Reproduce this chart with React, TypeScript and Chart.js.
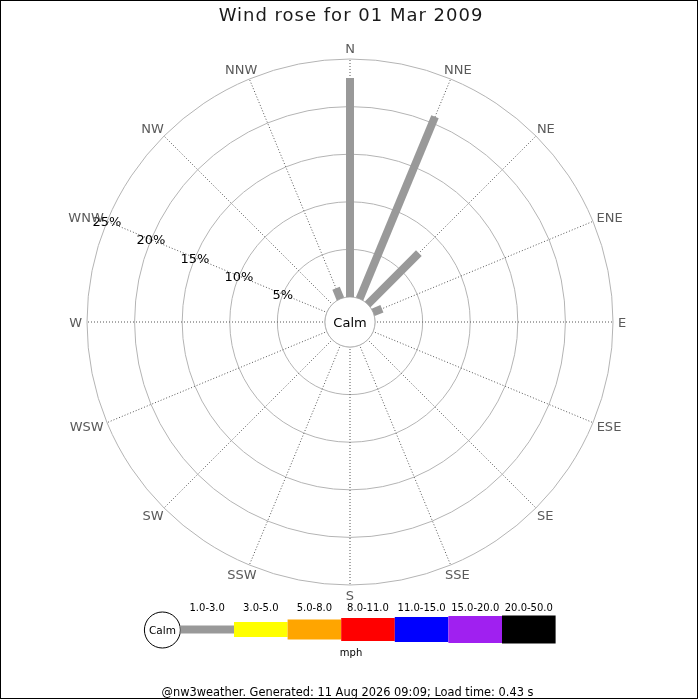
import { useEffect, useRef } from 'react';
import { Chart, registerables } from 'chart.js';

Chart.register(...registerables);

// ---------- data ----------
const TITLE = 'Wind rose for 01 Mar 2009';
const FOOTER = '@nw3weather. Generated: 11 Aug 2026 09:09; Load time: 0.43 s';
const CALM_LABEL = 'Calm';
const SPEED_UNIT = 'mph';
const DIRECTIONS = ['N', 'NNE', 'NE', 'ENE', 'E', 'ESE', 'SE', 'SSE', 'S', 'SSW', 'SW', 'WSW', 'W', 'WNW', 'NW', 'NNW'];
const SPEED_BINS = ['1.0-3.0', '3.0-5.0', '5.0-8.0', '8.0-11.0', '11.0-15.0', '15.0-20.0', '20.0-50.0'];
const RING_TICKS = [5, 10, 15, 20, 25];
const TICK_LABEL_DIRECTION = 'WNW';

// frequency (%) per direction for each speed bin
const FREQ_1_3 = [23.0, 20.7, 7.6, 1.0, 0, 0, 0, 0, 0, 0, 0, 0, 0, 0, 0, 1.2];
const FREQ_3_5 = [0, 0, 0, 0, 0, 0, 0, 0, 0, 0, 0, 0, 0, 0, 0, 0];
const FREQ_5_8 = [0, 0, 0, 0, 0, 0, 0, 0, 0, 0, 0, 0, 0, 0, 0, 0];
const FREQ_8_11 = [0, 0, 0, 0, 0, 0, 0, 0, 0, 0, 0, 0, 0, 0, 0, 0];
const FREQ_11_15 = [0, 0, 0, 0, 0, 0, 0, 0, 0, 0, 0, 0, 0, 0, 0, 0];
const FREQ_15_20 = [0, 0, 0, 0, 0, 0, 0, 0, 0, 0, 0, 0, 0, 0, 0, 0];
const FREQ_20_50 = [0, 0, 0, 0, 0, 0, 0, 0, 0, 0, 0, 0, 0, 0, 0, 0];
const FREQUENCIES = [FREQ_1_3, FREQ_3_5, FREQ_5_8, FREQ_8_11, FREQ_11_15, FREQ_15_20, FREQ_20_50];

// ---------- styles ----------
const BIN_COLORS = ['#999999', '#ffff00', '#ffa500', '#ff0000', '#0000ff', '#a020f0', '#000000'];
const BIN_WIDTHS = [8, 15, 20, 23, 25, 27, 28];
const FONT = '"DejaVu Sans", sans-serif';

const roseDecor = {
  id: 'roseDecor',
  afterDatasetsDraw(chart: any) {
    const ctx: CanvasRenderingContext2D = chart.ctx;
    const s = chart.scales.r;
    const cx = s.xCenter;
    const cy = s.yCenter;
    const W = chart.width;
    ctx.save();

    // calm circle
    const calmR = s.getDistanceFromCenterForValue(0);
    ctx.beginPath();
    ctx.arc(cx, cy, calmR, 0, Math.PI * 2);
    ctx.fillStyle = '#ffffff';
    ctx.fill();
    ctx.strokeStyle = '#b4b4b4';
    ctx.lineWidth = 1;
    ctx.stroke();

    // bars
    ctx.lineCap = 'butt';
    DIRECTIONS.forEach((_, i) => {
      let start = 0;
      chart.data.datasets.forEach((ds: any, b: number) => {
        const v = ds.data[i];
        if (!v) return;
        const p0 = s.getPointPositionForValue(i, start);
        const p1 = s.getPointPositionForValue(i, start + v);
        ctx.strokeStyle = BIN_COLORS[b];
        ctx.lineWidth = BIN_WIDTHS[b];
        ctx.beginPath();
        ctx.moveTo(p0.x, p0.y);
        ctx.lineTo(p1.x, p1.y);
        ctx.stroke();
        start += v;
      });
    });

    // calm text
    ctx.fillStyle = '#000000';
    ctx.font = `13px ${FONT}`;
    ctx.textAlign = 'center';
    ctx.textBaseline = 'alphabetic';
    ctx.fillText(CALM_LABEL, cx, cy + 13 * 0.365);

    // ring tick labels
    const ti = DIRECTIONS.indexOf(TICK_LABEL_DIRECTION);
    RING_TICKS.forEach((t) => {
      const p = s.getPointPositionForValue(ti, t);
      ctx.fillText(`${t}%`, p.x, p.y + 13 * 0.365);
    });

    // direction labels
    ctx.fillStyle = '#5a5a5a';
    ctx.font = `13px ${FONT}`;
    const outer = s.getDistanceFromCenterForValue(s.max);
    DIRECTIONS.forEach((lab, i) => {
      const a = s.getIndexAngle(i);
      const p = s.getPointPosition(i, outer + 5);
      const hw = ctx.measureText(lab).width / 2;
      const hh = 5.5;
      const x = p.x + hw * Math.sin(a);
      const y = p.y - hh * Math.cos(a);
      ctx.fillText(lab, x, y + 13 * 0.365);
    });

    // title
    ctx.fillStyle = '#1a1a1a';
    ctx.font = `18px ${FONT}`;
    (ctx as any).letterSpacing = '1px';
    ctx.fillText(TITLE, W / 2 + 1, 20.5);
    (ctx as any).letterSpacing = '0px';

    // legend
    const segW = 53.6;
    const circR = 18;
    const legLeft = W / 2 - (circR * 2 + segW * SPEED_BINS.length) / 2;
    const ly = 629.5;
    ctx.beginPath();
    ctx.arc(legLeft + circR, ly + 0.5, circR, 0, Math.PI * 2);
    ctx.fillStyle = '#ffffff';
    ctx.fill();
    ctx.strokeStyle = '#000000';
    ctx.lineWidth = 1;
    ctx.stroke();
    ctx.fillStyle = '#000000';
    ctx.font = `10.5px ${FONT}`;
    ctx.fillText(CALM_LABEL, legLeft + circR, ly + 0.5 + 10.5 * 0.365);
    SPEED_BINS.forEach((lab, b) => {
      const x0 = legLeft + circR * 2 + b * segW;
      ctx.fillStyle = BIN_COLORS[b];
      ctx.fillRect(x0, ly - BIN_WIDTHS[b] / 2, segW, BIN_WIDTHS[b]);
      ctx.fillStyle = '#000000';
      ctx.font = `10px ${FONT}`;
      ctx.fillText(lab, x0 + segW / 2, 610.5);
    });
    ctx.font = `10px ${FONT}`;
    ctx.fillText(SPEED_UNIT, W / 2 + 1, 656);

    // footer
    ctx.font = `11.4px ${FONT}`;
    ctx.fillText(FOOTER, W / 2 - 2.5, 696);

    // frame
    ctx.strokeStyle = '#000000';
    ctx.lineWidth = 1;
    ctx.strokeRect(0.5, 0.5, 697, 698);

    ctx.restore();
  },
};

export default function App() {
  const ref = useRef<HTMLCanvasElement | null>(null);
  useEffect(() => {
    if (!ref.current) return;
    const chart = new Chart(ref.current, {
      type: 'radar',
      data: {
        labels: DIRECTIONS,
        datasets: FREQUENCIES.map((d, b) => ({
          label: SPEED_BINS[b],
          data: d,
          showLine: false,
          pointRadius: 0,
          borderWidth: 0,
          fill: false,
        })),
      },
      options: {
        responsive: false,
        animation: false,
        devicePixelRatio: 1,
        layout: { padding: { left: 87, right: 87, top: 59, bottom: 115 } },
        plugins: { legend: { display: false }, title: { display: false }, tooltip: { enabled: false } },
        scales: {
          r: {
            min: -2.63,
            max: 25,
            startAngle: 0,
            ticks: { display: false },
            afterBuildTicks: (sc: any) => {
              sc.ticks = [0, ...RING_TICKS].map((v) => ({ value: v }));
            },
            grid: { circular: true, color: '#b4b4b4', lineWidth: 1 },
            angleLines: { color: '#555555', lineWidth: 1, borderDash: [1, 2] },
            pointLabels: { display: false },
          },
        },
      } as any,
      plugins: [roseDecor],
    });
    return () => chart.destroy();
  }, []);
  return (
    <div style={{ position: 'absolute', left: 0, top: 0, width: 700, height: 700, background: '#ffffff' }}>
      <canvas ref={ref} width={700} height={700} style={{ display: 'block' }} />
    </div>
  );
}
